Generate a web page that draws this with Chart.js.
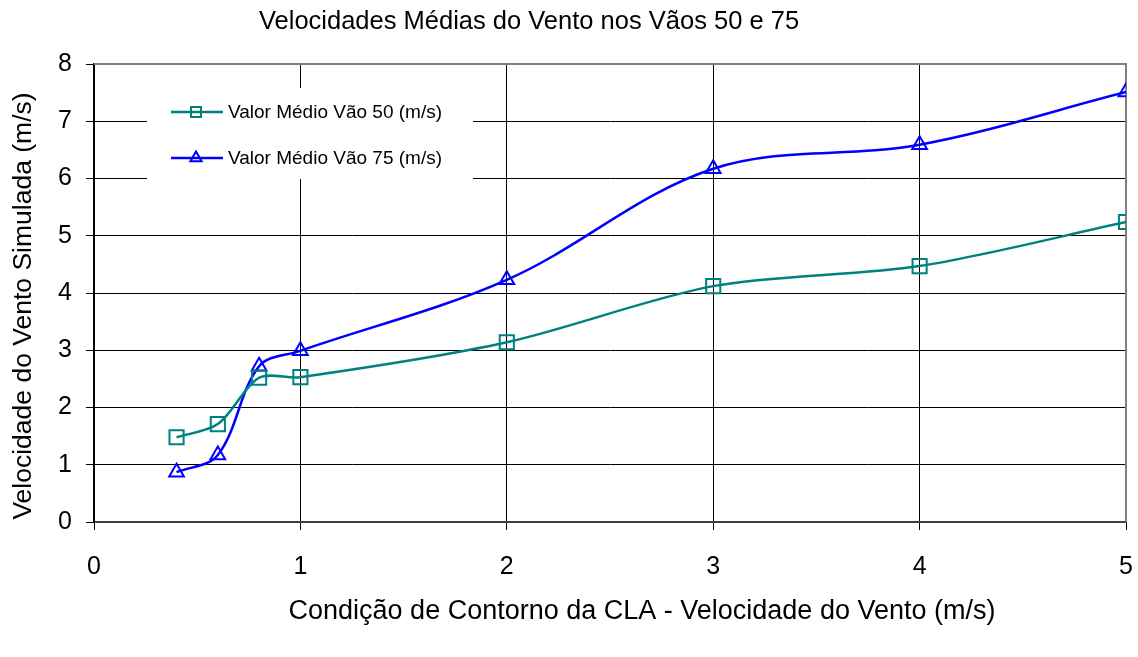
<!DOCTYPE html>
<html>
<head>
<meta charset="utf-8">
<script src="https://cdn.jsdelivr.net/npm/chart.js@4/dist/chart.umd.min.js"></script>
<style>
  html, body { margin: 0; padding: 0; background: #fff; }
  #wrap { width: 1138px; height: 657px; position: relative; }
</style>
</head>
<body>
<div id="wrap"><canvas id="windChart"></canvas></div>
<script>
// condicao de contorno (m/s) e medias simuladas por vao
const boundarySpeed = [0.4, 0.6, 0.8, 1, 2, 3, 4, 5];
const meanSpan50 = [1.48, 1.71, 2.52, 2.53, 3.14, 4.12, 4.47, 5.24];
const meanSpan75 = [0.87, 1.17, 2.72, 2.99, 4.23, 6.17, 6.59, 7.51];
const seriesNames = ['Valor Médio Vão 50 (m/s)', 'Valor Médio Vão 75 (m/s)'];

const chartTitle = 'Velocidades Médias do Vento nos Vãos 50 e 75';
const xTitle = 'Condição de Contorno da CLA - Velocidade do Vento (m/s)';
const yTitle = 'Velocidade do Vento Simulada (m/s)';

const TEAL = '#008080';
const BLUE = '#0000ff';
const FONT = '"Liberation Sans", Arial, sans-serif';

function toPoints(xs, ys) {
    return xs.map((x, i) => ({ x: x, y: ys[i] }));
}

// titulos, borda e legenda dentro da area do grafico
const decorations = {
    id: 'decorations',
    beforeDatasetsDraw(chart) {
        const { ctx, chartArea: a } = chart;
        ctx.save();
        // borda cinza superior e direita
        ctx.strokeStyle = '#808080';
        ctx.lineWidth = 2;
        ctx.beginPath();
        ctx.moveTo(a.left, a.top);
        ctx.lineTo(a.right, a.top);
        ctx.lineTo(a.right, a.bottom);
        ctx.stroke();

        // caixa da legenda cobre a grade
        ctx.fillStyle = '#fff';
        ctx.fillRect(147, 88, 326, 91);
        ctx.restore();
    },
    afterDraw(chart) {
        const { ctx } = chart;
        ctx.save();
        ctx.fillStyle = '#000';
        ctx.textAlign = 'center';
        ctx.textBaseline = 'middle';
        ctx.font = '25.5px ' + FONT;
        ctx.fillText(chartTitle, 529, 22);
        ctx.font = '27px ' + FONT;
        ctx.fillText(xTitle, 642, 612);
        ctx.font = '26.5px ' + FONT;
        ctx.translate(24, 306);
        ctx.rotate(-Math.PI / 2);
        ctx.fillText(yTitle, 0, 0);
        ctx.restore();

        // legenda
        const rows = [
            { y: 112, color: TEAL, style: 'rect', r: 7 },
            { y: 158, color: BLUE, style: 'triangle', r: 6.5 }
        ];
        ctx.save();
        rows.forEach((row, i) => {
            ctx.strokeStyle = row.color;
            ctx.lineWidth = 2.5;
            ctx.beginPath();
            ctx.moveTo(171, row.y);
            ctx.lineTo(223, row.y);
            ctx.stroke();
            ctx.lineWidth = 2;
            ctx.fillStyle = 'rgba(0,0,0,0)';
            Chart.helpers.drawPoint(ctx, { pointStyle: row.style, radius: row.r, borderWidth: 2 }, 196, row.y);
            ctx.fillStyle = '#000';
            ctx.font = '19px ' + FONT;
            ctx.textAlign = 'left';
            ctx.textBaseline = 'middle';
            ctx.fillText(seriesNames[i], 228, row.y + 1);
        });
        ctx.restore();
    }
};

const ctx = document.getElementById('windChart').getContext('2d');

new Chart(ctx, {
    type: 'line',
    data: {
        datasets: [{
            label: seriesNames[0],
            data: toPoints(boundarySpeed, meanSpan50),
            borderColor: TEAL,
            borderWidth: 2.5,
            pointStyle: 'rect',
            pointRadius: 10,
            pointBorderWidth: 2,
            pointBorderColor: TEAL,
            pointBackgroundColor: 'rgba(0,0,0,0)',
            tension: 0.3,
            fill: false
        }, {
            label: seriesNames[1],
            data: toPoints(boundarySpeed, meanSpan75),
            borderColor: BLUE,
            borderWidth: 2.5,
            pointStyle: 'triangle',
            pointRadius: 8.5,
            pointBorderWidth: 2,
            pointBorderColor: BLUE,
            pointBackgroundColor: 'rgba(0,0,0,0)',
            tension: 0.35,
            fill: false
        }]
    },
    options: {
        responsive: true,
        maintainAspectRatio: false,
        animation: false,
        layout: { padding: { top: 64, right: 11, left: 0, bottom: 0 } },
        plugins: {
            legend: { display: false },
            title: { display: false },
            tooltip: { enabled: false }
        },
        scales: {
            x: {
                type: 'linear',
                min: 0,
                max: 5,
                afterFit(scale) {
                    scale.height = 135;
                    scale.paddingLeft = 0;
                    scale.paddingRight = 0;
                },
                ticks: {
                    stepSize: 1,
                    padding: 22,
                    color: '#000',
                    font: { family: FONT, size: 25 }
                },
                grid: {
                    color: '#000',
                    lineWidth: 1,
                    tickLength: 8,
                    tickColor: '#000'
                },
                border: { color: '#404040', width: 2 }
            },
            y: {
                min: 0,
                max: 8,
                afterFit(scale) {
                    scale.width = 94;
                    scale.paddingTop = 0;
                    scale.paddingBottom = 0;
                },
                ticks: {
                    stepSize: 1,
                    padding: 14,
                    color: '#000',
                    font: { family: FONT, size: 25 }
                },
                grid: {
                    color: '#000',
                    lineWidth: 1,
                    tickLength: 8,
                    tickColor: '#000'
                },
                border: { color: '#000', width: 2 }
            }
        }
    },
    plugins: [decorations]
});
</script>
</body>
</html>
